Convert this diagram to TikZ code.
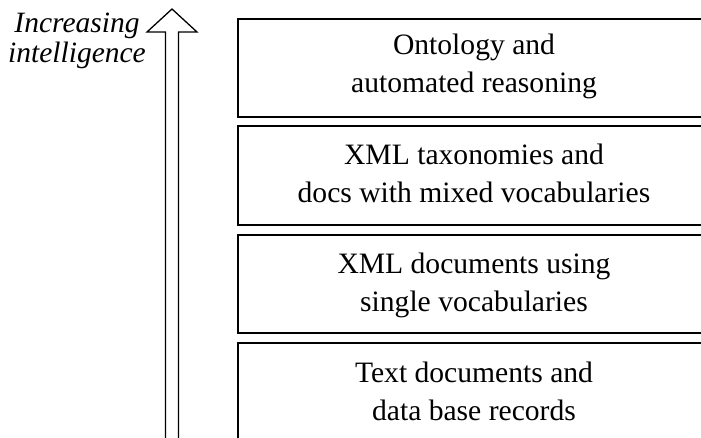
\documentclass[tikz,border=0pt]{standalone}
\usepackage{fontspec}
\setmainfont{Liberation Serif}
\begin{document}
\begin{tikzpicture}[x=1pt,y=-1pt,
  layer/.style={draw=black,line width=1.6pt,fill=white},
  layertext/.style={anchor=base,inner sep=0pt,font=\fontsize{29.6}{38}\selectfont},
  arrowline/.style={draw=black,line width=1.3pt,line join=miter},
  sidetext/.style={anchor=base,inner sep=0pt,font=\fontsize{29.5}{30}\selectfont\itshape}]
\useasboundingbox (0,0) rectangle (701,438);
\clip (0,0) rectangle (701,438);

% stacked layers, lowest at the bottom
\node[layer,minimum width=474pt,minimum height=98pt,anchor=north west] (l1) at (237,18) {};
\node[layer,minimum width=474pt,minimum height=99pt,anchor=north west] (l2) at (237,125) {};
\node[layer,minimum width=474pt,minimum height=98pt,anchor=north west] (l3) at (237,234) {};
\node[layer,minimum width=474pt,minimum height=110pt,anchor=north west] (l4) at (237,342) {};

\node[layertext] (t1) at (474,55) {\begin{tabular}[t]{@{}c@{}}Ontology and\\automated reasoning\end{tabular}};
\node[layertext] (t2) at (474,165) {\begin{tabular}[t]{@{}c@{}}XML taxonomies and\\docs with mixed vocabularies\end{tabular}};
\node[layertext] (t3) at (474,273) {\begin{tabular}[t]{@{}c@{}}XML documents using\\single vocabularies\end{tabular}};
\node[layertext] (t4) at (474,382) {\begin{tabular}[t]{@{}c@{}}Text documents and\\data base records\end{tabular}};

% hollow upward arrow
\coordinate (foot) at (172,445);
\coordinate (tip) at (172,9);
\draw[arrowline,fill=white] ([xshift=-6.5pt]foot) -- ([xshift=-6.5pt]tip |- 0,32)
  -- ([xshift=-25pt]tip |- 0,32) -- (tip) -- ([xshift=25pt]tip |- 0,32)
  -- ([xshift=6.5pt]tip |- 0,32) -- ([xshift=6.5pt]foot);

\node[sidetext] (lbl) at (77,33) {\begin{tabular}[t]{@{}c@{}}Increasing\\intelligence\end{tabular}};
\end{tikzpicture}
\end{document}
